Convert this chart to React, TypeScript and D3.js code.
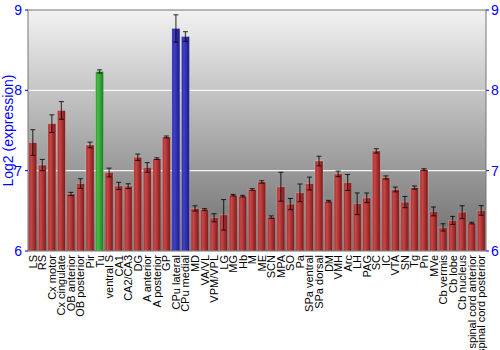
import React from "react";
import * as d3 from "d3";

const categories = ["LS","RS","Cx motor","Cx cingulate","OB anterior","OB posterior","Pir","Tu","ventral S","CA1","CA2/CA3","DG","A anterior","A posterior","GP","CPu lateral","CPu medial","MD","VA/VL","VPM/VPL","LG","MG","Hb","M","ME","SCN","MPA","SO","Pa","SPa ventral","SPa dorsal","DM","VMH","Arc","LH","PAG","SC","IC","VTA","SN","Tg","Pn","MVe","Cb vermis","Cb lobe","Cb nucleus","spinal cord anterior","spinal cord posterior"];
const values = [7.35,7.07,7.585,7.75,6.71,6.84,7.32,8.235,6.977,6.81,6.807,7.167,7.04,7.15,7.42,8.77,8.67,6.53,6.517,6.414,6.45,6.695,6.683,6.766,6.86,6.422,6.80,6.584,6.724,6.84,7.12,6.62,6.96,6.853,6.588,6.662,7.246,6.915,6.766,6.609,6.79,7.014,6.493,6.294,6.381,6.484,6.348,6.505];
const errors = [0.16,0.07,0.11,0.11,0.02,0.06,0.035,0.02,0.055,0.045,0.03,0.04,0.06,0.01,0.012,0.17,0.06,0.033,0.01,0.05,0.19,0.01,0.01,0.01,0.015,0.015,0.18,0.07,0.11,0.08,0.06,0.01,0.035,0.10,0.135,0.06,0.027,0.02,0.03,0.07,0.02,0.01,0.055,0.045,0.05,0.08,0.01,0.06];
const groups = ["r","r","r","r","r","r","r","g","r","r","r","r","r","r","r","b","b","r","r","r","r","r","r","r","r","r","r","r","r","r","r","r","r","r","r","r","r","r","r","r","r","r","r","r","r","r","r","r"];
const yTicks = [6, 7, 8, 9];
const yTitle = "Log2 (expression)";

const W = 500, H = 350;
const L = 28, R = 486, T = 10, B = 251;

export default function App() {
  const x = d3.scaleBand<string>().domain(categories).range([L, R]).paddingInner(0.16).paddingOuter(0.08);
  const y = d3.scaleLinear().domain([6, 9]).range([B, T]);
  const bw = x.bandwidth();
  const font = "'Liberation Sans', Arial, sans-serif";
  return (
    <svg width={W} height={H} style={{ position: "absolute", left: 0, top: 0 }} fontFamily={font}>
      <defs>
        <linearGradient id="bg" x1="0" y1="0" x2="0" y2="1">
          <stop offset="0" stopColor="#f2f2f2" />
          <stop offset="1" stopColor="#6c6c6c" />
        </linearGradient>
        <linearGradient id="gr" x1="0" y1="0" x2="1" y2="0">
          <stop offset="0" stopColor="#a82c2c" />
          <stop offset="0.3" stopColor="#c84646" />
          <stop offset="1" stopColor="#7a1818" />
        </linearGradient>
        <linearGradient id="gg" x1="0" y1="0" x2="1" y2="0">
          <stop offset="0" stopColor="#2f9a2f" />
          <stop offset="0.3" stopColor="#45be45" />
          <stop offset="1" stopColor="#1f7a1f" />
        </linearGradient>
        <linearGradient id="gb" x1="0" y1="0" x2="1" y2="0">
          <stop offset="0" stopColor="#2a2aa5" />
          <stop offset="0.3" stopColor="#4040c8" />
          <stop offset="1" stopColor="#1a1a80" />
        </linearGradient>
      </defs>
      <rect x={L} y={T} width={R - L} height={B - T} fill="url(#bg)" />
      {yTicks.filter(t => t > 6 && t < 9).map(t => (
        <line key={t} x1={L} x2={R} y1={y(t)} y2={y(t)} stroke="#ffffff" strokeWidth={1.3} opacity={0.9} />
      ))}
      {categories.map((c, i) => {
        const x0 = x(c) as number;
        const v = values[i];
        const fill = groups[i] === "g" ? "url(#gg)" : groups[i] === "b" ? "url(#gb)" : "url(#gr)";
        const cx = x0 + bw / 2;
        const e = errors[i];
        return (
          <g key={c}>
            <rect x={x0} y={y(v)} width={bw} height={B - y(v)} fill={fill} stroke="#ffffff" strokeOpacity={0.3} strokeWidth={0.8} />
            <line x1={cx} x2={cx} y1={y(v + e)} y2={y(v - e)} stroke="#000" strokeOpacity={0.65} strokeWidth={1.3} />
            <line x1={cx - 2.5} x2={cx + 2.5} y1={y(v + e)} y2={y(v + e)} stroke="#000" strokeOpacity={0.8} strokeWidth={1} />
            <line x1={cx - 2.5} x2={cx + 2.5} y1={y(v - e)} y2={y(v - e)} stroke="#000" strokeOpacity={0.8} strokeWidth={1} />
            <text transform={`translate(${cx + 4},${B + 4}) rotate(-90)`} textAnchor="end" fontSize={11} fill="#000">{c}</text>
          </g>
        );
      })}
      <rect x={L} y={T} width={R - L} height={B - T} fill="none" stroke="#777" strokeWidth={1} />
      {yTicks.map(t => (
        <g key={t}>
          <line x1={L - 3} x2={L} y1={y(t)} y2={y(t)} stroke="#0000ff" />
          <text x={L - 6} y={y(t) + 5} textAnchor="end" fontSize={14} fill="#0000ff">{t}</text>
          <line x1={R} x2={R + 3} y1={y(t)} y2={y(t)} stroke="#0000ff" />
          <text x={R + 5} y={y(t) + 5} textAnchor="start" fontSize={14} fill="#0000ff">{t}</text>
        </g>
      ))}
      <text transform={`translate(13,${(T + B) / 2}) rotate(-90)`} textAnchor="middle" fontSize={14} fill="#0000ff">{yTitle}</text>
    </svg>
  );
}
